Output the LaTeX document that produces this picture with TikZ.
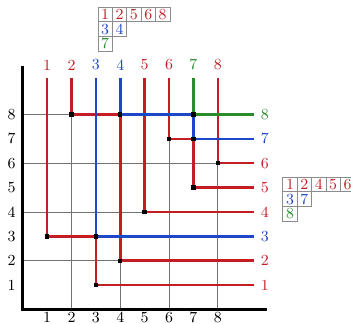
\documentclass[tikz,border=0pt]{standalone}
\usetikzlibrary{positioning}
\definecolor{wred}{RGB}{196,30,36}
\definecolor{wblue}{RGB}{30,70,200}
\definecolor{wgreen}{RGB}{40,140,40}
\begin{document}
\begin{tikzpicture}[x=0.5cm,y=0.5cm,
  every node/.style={font=\small,inner sep=1pt},
  gridline/.style={black!55,line width=0.4pt},
  axisline/.style={black,line width=1.5pt},
  wire/.style={line width=1.5pt},
  dot/.style={fill=black,inner sep=0pt,minimum size=2.6pt,rectangle},
  cell/.style={draw=black!45,line width=0.4pt,minimum width=0.295cm,minimum height=0.3cm,inner sep=0pt,anchor=north west}]
\useasboundingbox (-0.93,-0.56) rectangle (13.46,12.69);
% grid
\draw[gridline] (0,0) grid (9,9);
\draw[axisline] (0,10) -- (0,0) -- (10,0);
% axis labels
\foreach \i in {1,...,8} {
  \node (b\i) at (\i,-0.32) {\i};
  \node (l\i) at (-0.45,\i) {\i};
}
% top labels
\foreach \i/\c in {1/wred,2/wred,3/wblue,4/wblue,5/wred,6/wred,7/wgreen,8/wred} {
  \node[text=\c] (t\i) at (\i,10.03) {\i};
  \coordinate (s\i) at (\i,9.5);
}
% right labels
\foreach \i/\c in {1/wred,2/wred,3/wblue,4/wred,5/wred,6/wred,7/wblue,8/wgreen} {
  \node[text=\c] (r\i) at (9.93,\i) {\i};
  \coordinate (e\i) at (9.5,\i);
}
% turning points
\coordinate (p13) at (1,3);
\coordinate (p33) at (3,3);
\coordinate (p31) at (3,1);
\coordinate (p28) at (2,8);
\coordinate (p48) at (4,8);
\coordinate (p42) at (4,2);
\coordinate (p54) at (5,4);
\coordinate (p67) at (6,7);
\coordinate (p77) at (7,7);
\coordinate (p78) at (7,8);
\coordinate (p75) at (7,5);
\coordinate (p86) at (8,6);
% wires
\draw[wire,wred] (s1) -- (p13) -- (p33) -- (p31) -- (e1);
\draw[wire,wred] (s2) -- (p28) -- (p48) -- (p42) -- (e2);
\draw[wire,wred] (s5) -- (p54) -- (e4);
\draw[wire,wred] (s6) -- (p67) -- (p77) -- (p75) -- (e5);
\draw[wire,wred] (s8) -- (p86) -- (e6);
\draw[wire,wblue] (s3) -- (p33) -- (e3);
\draw[wire,wblue] (s4) -- (p48) -- (p78) -- (p77) -- (e7);
\draw[wire,wgreen] (s7) -- (p78) -- (e8);
% dots
\foreach \p in {p13,p33,p31,p28,p48,p42,p54,p67,p77,p78,p75,p86}
  \node[dot] at (\p) {};
% top tableau
\begin{scope}[shift={(3.07,12.41)}]
\foreach \k/\v/\c in {0/1/wred,1/2/wred,2/5/wred,3/6/wred,4/8/wred}
  \node[cell,text=\c] (ta\k) at (\k*0.59,0) {\v};
\foreach \k/\v/\c in {0/3/wblue,1/4/wblue}
  \node[cell,text=\c] (tb\k) at (\k*0.59,-0.6) {\v};
\node[cell,text=wgreen] (tc0) at (0,-1.2) {7};
\end{scope}
% right tableau
\begin{scope}[shift={(10.65,5.44)}]
\foreach \k/\v/\c in {0/1/wred,1/2/wred,2/4/wred,3/5/wred,4/6/wred}
  \node[cell,text=\c] (ra\k) at (\k*0.59,0) {\v};
\foreach \k/\v/\c in {0/3/wblue,1/7/wblue}
  \node[cell,text=\c] (rb\k) at (\k*0.59,-0.6) {\v};
\node[cell,text=wgreen] (rc0) at (0,-1.2) {8};
\end{scope}
\end{tikzpicture}
\end{document}
